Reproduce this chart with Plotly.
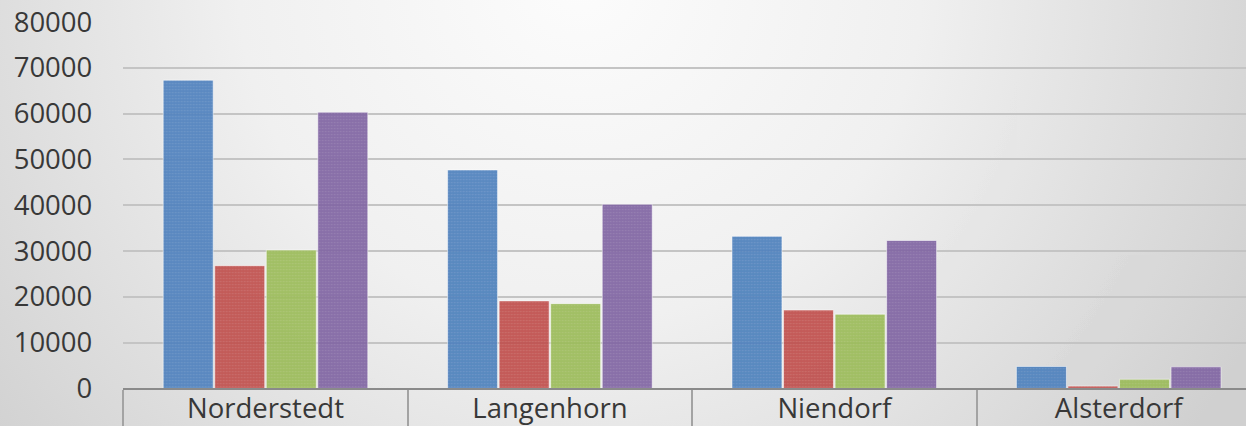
import base64
import plotly.graph_objects as go

# Districts and the four series per district
districts = ["Norderstedt", "Langenhorn", "Niendorf", "Alsterdorf"]
series_1 = [67300, 47700, 33200, 4800]
series_2 = [26800, 19100, 17100, 500]
series_3 = [30200, 18500, 16200, 2000]
series_4 = [60300, 40200, 32300, 4700]
series_names = ["Reihe 1", "Reihe 2", "Reihe 3", "Reihe 4"]
y_ticks = [0, 10000, 20000, 30000, 40000, 50000, 60000, 70000, 80000]

colors = ["#4f81bd", "#c0504d", "#9bbb59", "#8064a2"]

W, H = 1246, 426
PLOT_LEFT, PLOT_TOP, PLOT_BOTTOM = 123.3, 22.0, 388.4
CAT_WIDTH = 284.4

# Soft radial grey background behind the whole chart
svg = f"""<svg xmlns='http://www.w3.org/2000/svg' width='{W}' height='{H}' viewBox='0 0 {W} {H}' preserveAspectRatio='none'>
<defs><radialGradient id='g' gradientUnits='userSpaceOnUse' cx='580' cy='-20' r='760'>
<stop offset='0' stop-color='#fcfcfc'/><stop offset='0.45' stop-color='#f0f0f0'/><stop offset='1' stop-color='#d0d0d0'/>
</radialGradient></defs><rect width='{W}' height='{H}' fill='url(#g)'/></svg>"""
bg_src = "data:image/svg+xml;base64," + base64.b64encode(svg.encode()).decode()

fig = go.Figure()
for name, vals, col in zip(series_names, [series_1, series_2, series_3, series_4], colors):
    fig.add_trace(go.Bar(
        x=districts, y=vals, name=name,
        marker=dict(
            color=col,
            line=dict(color="rgba(255,255,255,0.55)", width=1),
            pattern=dict(shape=".", size=3, solidity=0.25,
                         fgcolor="rgba(255,255,255,1)", fgopacity=0.12, fillmode="overlay"),
        ),
        opacity=0.92,
        showlegend=False,
    ))

font_family = "Open Sans, Noto Sans, sans-serif"
text_color = "#383838"

fig.update_layout(
    width=W, height=H, autosize=False,
    margin=dict(l=0, r=0, t=0, b=0, pad=0),
    paper_bgcolor="#ffffff",
    plot_bgcolor="rgba(0,0,0,0)",
    barmode="group",
    bargap=0.275,
    bargroupgap=0.03,
    font=dict(family=font_family, color=text_color),
    images=[dict(source=bg_src, xref="paper", yref="paper", x=0, y=1,
                 sizex=1, sizey=1, sizing="stretch", xanchor="left", yanchor="top",
                 layer="below")],
    xaxis=dict(
        domain=[PLOT_LEFT / W, 1],
        range=[-0.5, -0.5 + (W - PLOT_LEFT) / CAT_WIDTH],
        showline=True, linecolor="#8a8a8a", linewidth=2,
        showgrid=False, zeroline=False,
        ticks="outside", tickson="boundaries", ticklen=40,
        tickcolor="#a3a3a3", tickwidth=1.5,
        tickfont=dict(size=27.5, color=text_color, family=font_family),
        ticklabelstandoff=-5,
        automargin=False,
        fixedrange=True,
    ),
    yaxis=dict(
        domain=[(H - PLOT_BOTTOM) / H, (H - PLOT_TOP) / H],
        range=[0, 80000],
        tickvals=y_ticks,
        ticktext=[str(v) for v in y_ticks],
        showgrid=True, gridcolor="#c4c4c4", gridwidth=1.5,
        zeroline=False, showline=False, ticks="",
        tickfont=dict(size=27.5, color=text_color, family=font_family),
        ticklabelstandoff=30,
        automargin=False,
        fixedrange=True,
    ),
)

fig.write_html("out.html")
